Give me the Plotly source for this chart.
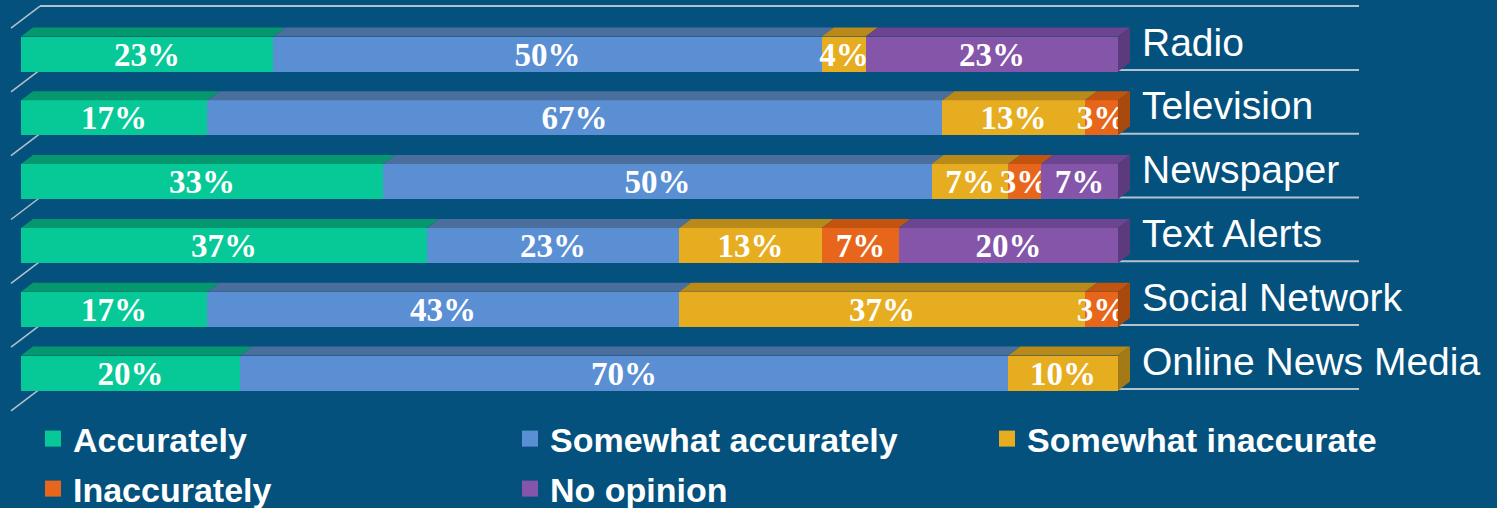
import plotly.graph_objects as go

# ---- data -------------------------------------------------------------
categories = ["Radio", "Television", "Newspaper", "Text Alerts",
              "Social Network", "Online News Media"]
series_names = ["Accurately", "Somewhat accurately", "Somewhat inaccurate",
                "Inaccurately", "No opinion"]
accurately = [23, 17, 33, 37, 17, 20]
somewhat_accurately = [50, 67, 50, 23, 43, 70]
somewhat_inaccurate = [4, 13, 7, 13, 37, 10]
inaccurately = [0, 3, 3, 7, 3, 0]
no_opinion = [23, 0, 7, 20, 0, 0]
series_values = [accurately, somewhat_accurately, somewhat_inaccurate,
                 inaccurately, no_opinion]

# ---- styling ----------------------------------------------------------
front_colors = ["#07c897", "#5b8fd4", "#e6ad21", "#e8661b", "#8455a9"]
top_colors = ["#05986f", "#4a6e9d", "#b98a1a", "#c2540f", "#6c4490"]
side_colors = ["#047a59", "#3d5c86", "#a47a16", "#a84a0e", "#5b3a7e"]
BG = "#04517d"
GRID = "#b4c2cc"

W, H = 1497, 508
X0_PX, PX_PER_PCT = 21, 10.97        # x = 0 sits at 21 px
ROW0_PX, ROW_STEP_PX = 54, 63.8      # centre of the first row and row pitch
BAR_PX = 35                          # bar thickness
DX_PX, DY_PX = 12, 9                 # 3-D depth of the bars

ux = 1.0 / PX_PER_PCT                # data units per pixel, x
uy = 1.0 / ROW_STEP_PX               # data units per pixel, y
x_range = [-X0_PX * ux, (W - X0_PX) * ux]
y_range = [-(H - ROW0_PX) * uy, ROW0_PX * uy]

ypos = [-i for i in range(len(categories))]
half = BAR_PX * uy / 2
ddx, ddy = DX_PX * ux, DY_PX * uy

fig = go.Figure()

# front faces of the stacked bars
for name, vals, col in zip(series_names, series_values, front_colors):
    fig.add_trace(go.Bar(
        y=ypos, x=vals, orientation="h", name=name,
        marker=dict(color=col, line=dict(width=0)),
        width=BAR_PX * uy,
        text=[f"{v}%" if v else None for v in vals],
        textposition="inside", insidetextanchor="middle",
        constraintext="none", textangle=0,
        textfont=dict(family="Liberation Serif", size=33, color="white",
                      weight="bold"),
        showlegend=False, hoverinfo="skip",
    ))

shapes = []

# floor grid: back-wall lines plus the short diagonals at the left
for k in range(len(categories) + 1):
    front = ROW0_PX + ROW_STEP_PX * (k - 0.5)
    yb = -(front - 16 - ROW0_PX) * uy
    yf = -(front + 6 - ROW0_PX) * uy
    xl, xb, xr = (11 - X0_PX) * ux, (40 - X0_PX) * ux, (1359 - X0_PX) * ux
    shapes.append(dict(type="line", xref="x", yref="y", x0=xb, y0=yb, x1=xr, y1=yb,
                       line=dict(color=GRID, width=2), layer="below"))
    shapes.append(dict(type="line", xref="x", yref="y", x0=xl, y0=yf, x1=xb, y1=yb,
                       line=dict(color=GRID, width=1.5), layer="below"))

# top and end faces of each stacked segment
for r, yc in enumerate(ypos):
    start = 0
    last = None
    for s, vals in enumerate(series_values):
        v = vals[r]
        if v == 0:
            continue
        end = start + v
        top = yc + half
        shapes.append(dict(
            type="path", xref="x", yref="y", layer="above", line=dict(width=0),
            fillcolor=top_colors[s],
            path=(f"M{start},{top} L{end},{top} L{end + ddx},{top + ddy} "
                  f"L{start + ddx},{top + ddy} Z")))
        last = (s, end)
        start = end
    s, end = last
    shapes.append(dict(
        type="path", xref="x", yref="y", layer="above", line=dict(width=0),
        fillcolor=side_colors[s],
        path=(f"M{end},{yc - half} L{end},{yc + half} L{end + ddx},{yc + half + ddy} "
              f"L{end + ddx},{yc - half + ddy} Z")))

# category names to the right of the bars
annotations = []
for name, yc in zip(categories, ypos):
    annotations.append(dict(
        x=1140 / W, xref="paper", y=yc, yref="y", yshift=12,
        text=name, showarrow=False, xanchor="left", yanchor="middle",
        font=dict(family="Liberation Sans", size=39, color="white")))

# legend entries (two rows)
for i, (name, col) in enumerate(zip(series_names, front_colors)):
    fig.add_trace(go.Scatter(
        x=[None], y=[None], mode="markers", name=name,
        marker=dict(symbol="square", size=16, color=col),
        legend="legend" if i < 3 else "legend2", hoverinfo="skip",
    ))

legend_style = dict(
    orientation="h", xanchor="left", yanchor="top", x=33 / W,
    bgcolor="rgba(0,0,0,0)", borderwidth=0, entrywidth=432, entrywidthmode="pixels",
    font=dict(family="Liberation Sans", size=34, color="white", weight="bold"),
    itemclick=False, itemdoubleclick=False, traceorder="normal",
)

fig.update_layout(
    width=W, height=H, margin=dict(l=0, r=0, t=0, b=0, autoexpand=False),
    paper_bgcolor=BG, plot_bgcolor=BG,
    barmode="stack", bargap=0,
    xaxis=dict(range=x_range, visible=False, fixedrange=True),
    yaxis=dict(range=y_range, visible=False, fixedrange=True),
    shapes=shapes, annotations=annotations,
    legend=dict(legend_style, y=1 - 410 / H),
    legend2=dict(legend_style, y=1 - 460 / H),
    showlegend=True,
)

fig.write_html("out.html")
